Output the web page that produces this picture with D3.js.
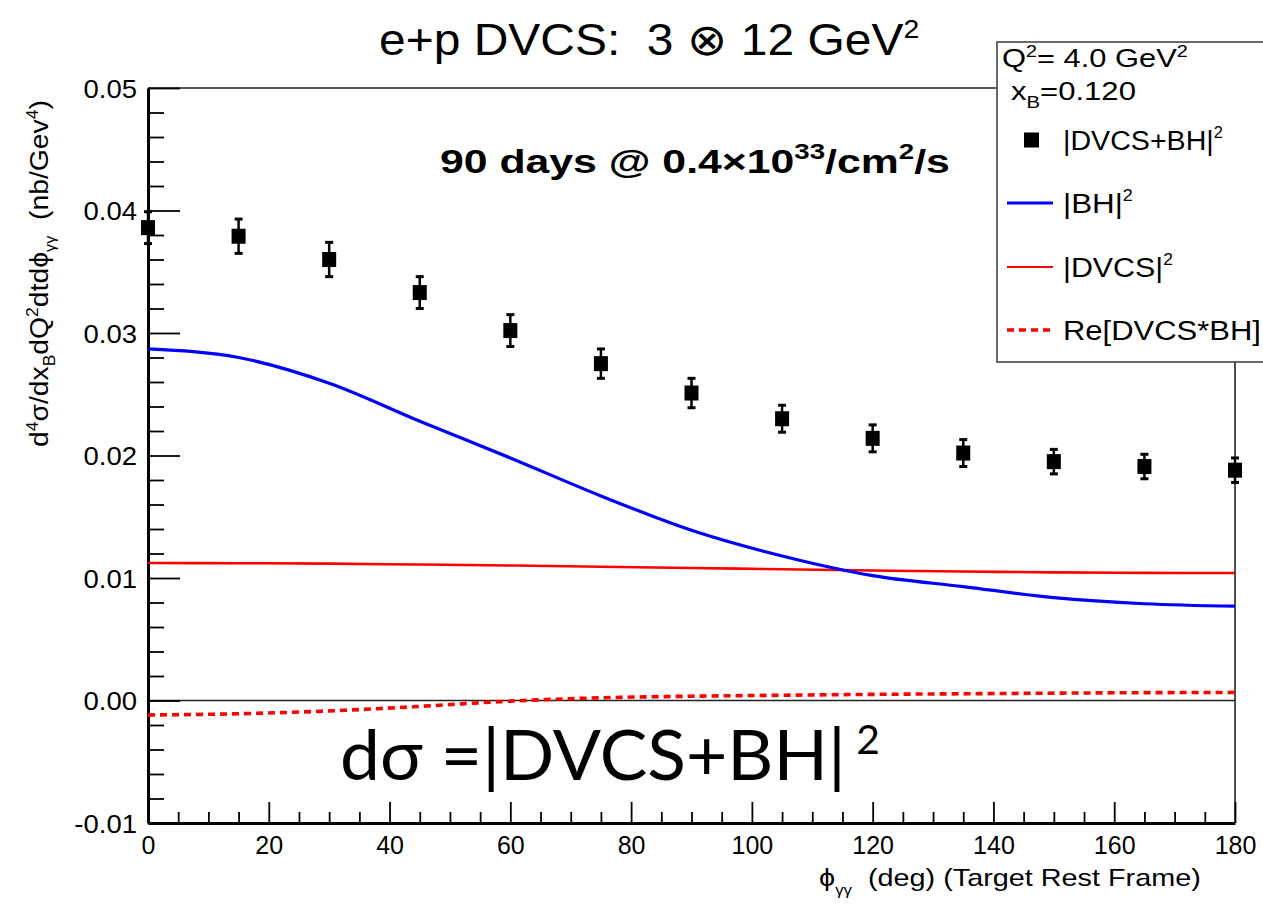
<!DOCTYPE html>
<html><head><meta charset="utf-8">
<script src="https://cdn.jsdelivr.net/npm/d3@7"></script>
<style>
body{margin:0;background:#fff}
svg{display:block}
text{font-family:"Liberation Sans",Arial,Helvetica,sans-serif;fill:#000}
</style>
</head><body>
<svg id="c" width="1263" height="905"></svg>
<script>
// ---------- data ----------
const phiPoints   = [0, 15, 30, 45, 60, 75, 90, 105, 120, 135, 150, 165, 180];
const sumValues   = [0.0386, 0.0379, 0.0360, 0.0333, 0.0302, 0.0275, 0.0251, 0.0230, 0.0214, 0.0202, 0.0195, 0.0191, 0.0188];
const sumErrors   = [0.0013, 0.0014, 0.0014, 0.0013, 0.0013, 0.0012, 0.0012, 0.0011, 0.0011, 0.0011, 0.0010, 0.0010, 0.0010];
const curvePhi    = [0, 15, 30, 45, 60, 75, 90, 105, 120, 135, 150, 165, 180];
const bhValues    = [0.0287, 0.0280, 0.0259, 0.0228, 0.0198, 0.0167, 0.0139, 0.0118, 0.0102, 0.0093, 0.0084, 0.0079, 0.0077];
const dvcsValues  = [0.01122, 0.01121, 0.01117, 0.01110, 0.01102, 0.01092, 0.01082, 0.01071, 0.01061, 0.01053, 0.01046, 0.01042, 0.01041];
const interfValues= [-0.00118, -0.00108, -0.00085, -0.00048, -0.00005, 0.00022, 0.00035, 0.00043, 0.00050, 0.00055, 0.00060, 0.00064, 0.00066];
const xTickValues = [0, 20, 40, 60, 80, 100, 120, 140, 160, 180];
const yTickValues = [-0.01, 0.00, 0.01, 0.02, 0.03, 0.04, 0.05];
const yTickLabels = ["-0.01", "0.00", "0.01", "0.02", "0.03", "0.04", "0.05"];
const legendLabels = ["|DVCS+BH|", "|BH|", "|DVCS|", "Re[DVCS*BH]"];

// ---------- layout ----------
const svg = d3.select("#c");
const X0 = 148, X1 = 1235, Y0 = 823, Y1 = 88;
const x = d3.scaleLinear().domain([0, 180]).range([X0, X1]);
const y = d3.scaleLinear().domain([-0.01, 0.05]).range([Y0, Y1]);

// rich text: segments [text, type('sup'|'sub'|null), size, shift]
function rich(t, segs) {
  let off = 0;
  segs.forEach(([txt, type, size, shift]) => {
    const target = type === "sup" ? -shift : type === "sub" ? shift : 0;
    const ts = t.append("tspan").attr("dy", target - off).text(txt);
    if (size) ts.style("font-size", size + "px");
    off = target;
  });
}
// text placed at (px,py) with horizontal fit to a target width
function fitText(parent, px, py, segs, opts) {
  const g = parent.append("g");
  const t = g.append("text").attr("x", 0).attr("y", 0)
    .style("font-size", opts.size + "px").style("white-space", "pre");
  if (opts.weight) t.style("font-weight", opts.weight);
  if (opts.family) t.style("font-family", opts.family);
  rich(t, segs);
  const w = t.node().getBBox().width;
  const s = opts.width ? opts.width / w : 1;
  const rot = opts.rotate ? ` rotate(${opts.rotate})` : "";
  g.attr("transform", `translate(${px},${py})${rot} scale(${s},1)`);
  return g;
}

// frame: top and right thin lines
svg.append("line").attr("x1", X0).attr("x2", X1).attr("y1", Y1).attr("y2", Y1)
  .attr("stroke", "#222").attr("stroke-width", 1.6);
svg.append("line").attr("x1", X1).attr("x2", X1).attr("y1", Y1).attr("y2", Y0)
  .attr("stroke", "#222").attr("stroke-width", 1.6);
// zero line
svg.append("line").attr("x1", X0).attr("x2", X1).attr("y1", y(0)).attr("y2", y(0))
  .attr("stroke", "#222").attr("stroke-width", 1.6);

// y axis
const yMinor = d3.range(-0.01, 0.0501, 0.002).filter(v => Math.abs(Math.round(v * 100) - v * 100) > 1e-6);
const yAxisMinor = d3.axisLeft(y).tickValues(yMinor).tickSize(-16).tickSizeOuter(0).tickFormat("");
const yAxisMajor = d3.axisLeft(y).tickValues(yTickValues).tickSize(-32).tickSizeOuter(0)
  .tickPadding(10).tickFormat((d, i) => yTickLabels[i]);
const gyMin = svg.append("g").attr("transform", `translate(${X0},0)`).call(yAxisMinor);
const gy = svg.append("g").attr("transform", `translate(${X0},0)`).call(yAxisMajor);
gyMin.select(".domain").remove();
gy.select(".domain").attr("stroke-width", 3);
gy.selectAll(".tick line").attr("stroke-width", 1.8);
gyMin.selectAll(".tick line").attr("stroke-width", 1.8);
gy.selectAll(".tick text").style("font-size", "25px").attr("dy", "0.36em").attr("x", -10)
  .attr("transform", "scale(1.1,1)");

// x axis
const xMinor = d3.range(0, 181, 5).filter(v => v % 20 !== 0);
const xAxisMinor = d3.axisBottom(x).tickValues(xMinor).tickSize(-11).tickSizeOuter(0).tickFormat("");
const xAxisMajor = d3.axisBottom(x).tickValues(xTickValues).tickSize(-21).tickSizeOuter(0).tickPadding(12);
const gxMin = svg.append("g").attr("transform", `translate(0,${Y0})`).call(xAxisMinor);
const gx = svg.append("g").attr("transform", `translate(0,${Y0})`).call(xAxisMajor);
gxMin.select(".domain").remove();
gx.select(".domain").attr("stroke-width", 3);
gx.selectAll(".tick line").attr("stroke-width", 1.8);
gxMin.selectAll(".tick line").attr("stroke-width", 1.8);
gx.selectAll(".tick text").style("font-size", "25px").attr("y", 31).attr("dy", 0);

// curves
const lineGen = vals => d3.line().x((d, i) => x(curvePhi[i])).y(d => y(d)).curve(d3.curveMonotoneX)(vals);
svg.append("path").attr("d", lineGen(dvcsValues)).attr("fill", "none").attr("stroke", "#ff0000").attr("stroke-width", 2.6);
svg.append("path").attr("d", lineGen(bhValues)).attr("fill", "none").attr("stroke", "#0000ff").attr("stroke-width", 3.2);
svg.append("path").attr("d", lineGen(interfValues)).attr("fill", "none").attr("stroke", "#ff0000")
  .attr("stroke-width", 3.6).attr("stroke-dasharray", "7,5");

// data points with error bars
const pts = svg.append("g");
phiPoints.forEach((p, i) => {
  const cx = x(p), cy = y(sumValues[i]);
  const yt = y(sumValues[i] + sumErrors[i]), yb = y(sumValues[i] - sumErrors[i]);
  pts.append("line").attr("x1", cx).attr("x2", cx).attr("y1", yt).attr("y2", yb).attr("stroke", "#000").attr("stroke-width", 2.5);
  pts.append("line").attr("x1", cx - 4).attr("x2", cx + 4).attr("y1", yt).attr("y2", yt).attr("stroke", "#000").attr("stroke-width", 3);
  pts.append("line").attr("x1", cx - 4).attr("x2", cx + 4).attr("y1", yb).attr("y2", yb).attr("stroke", "#000").attr("stroke-width", 3);
  pts.append("rect").attr("x", cx - 7).attr("y", cy - 7.5).attr("width", 14).attr("height", 15).attr("fill", "#000");
});

// title
fitText(svg, 379, 55, [["e+p DVCS:  3 \u2297 12 GeV"], ["2", "sup", 26, 17]], {size: 44, width: 540});

// luminosity note
fitText(svg, 440, 173, [
  ["90 days @ 0.4\u00d710"], ["33", "sup", 22, 14], ["/cm"], ["2", "sup", 22, 14], ["/s"]
], {size: 34, weight: "bold", width: 510});

// equation
fitText(svg, 340, 780, [["d\u03c3 =|DVCS+BH|"], [" 2", "sup", 40, 26]],
  {size: 70, family: "Lato, 'Open Sans', sans-serif", width: 540});

// y title
fitText(svg, 48, 447, [
  ["d"], ["4", "sup", 16, 10], ["\u03c3/dx"], ["B", "sub", 16, 7], ["dQ"], ["2", "sup", 16, 10],
  ["dtd\u03d5"], ["\u03b3\u03b3", "sub", 15, 7], ["  (nb/Gev"], ["4", "sup", 16, 10], [")"]
], {size: 26, width: 347, rotate: -90});

// x title
fitText(svg, 819, 886, [["\u03d5"], ["\u03b3\u03b3", "sub", 14, 9], ["  (deg) (Target Rest Frame)"]],
  {size: 24, width: 382});

// legend
const lg = svg.append("g");
lg.append("rect").attr("x", 997).attr("y", 42).attr("width", 300).attr("height", 320)
  .attr("fill", "#fff").attr("stroke", "#444").attr("stroke-width", 1.6);
fitText(lg, 1002, 67, [["Q"], ["2", "sup", 16, 10], ["= 4.0 GeV"], ["2", "sup", 16, 10]], {size: 25, width: 186});
fitText(lg, 1011, 100, [["x"], ["B", "sub", 17, 8], ["=0.120"]], {size: 26, width: 125});
const rowsY = [140, 203, 267, 330];
lg.append("rect").attr("x", 1024).attr("y", rowsY[0] - 7.5).attr("width", 15).attr("height", 15).attr("fill", "#000");
lg.append("line").attr("x1", 1007).attr("x2", 1053).attr("y1", rowsY[1]).attr("y2", rowsY[1]).attr("stroke", "#0000ff").attr("stroke-width", 3);
lg.append("line").attr("x1", 1007).attr("x2", 1053).attr("y1", rowsY[2]).attr("y2", rowsY[2]).attr("stroke", "#ff0000").attr("stroke-width", 2.2);
lg.append("line").attr("x1", 1007).attr("x2", 1053).attr("y1", rowsY[3]).attr("y2", rowsY[3]).attr("stroke", "#ff0000").attr("stroke-width", 3.6).attr("stroke-dasharray", "7,5");
const legW = [160, 70, 110, 198];
legendLabels.forEach((lab, i) => {
  const segs = [[lab]];
  if (i < 3) segs.push(["2", "sup", 16, 12]);
  fitText(lg, 1063, rowsY[i] + 10, segs, {size: 28, width: legW[i]});
});
</script>
</body></html>
